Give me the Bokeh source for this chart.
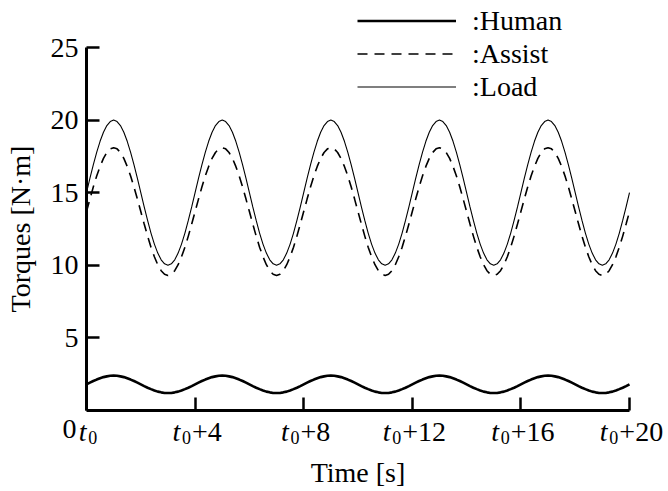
from bokeh.plotting import figure
from bokeh.models import Range1d, FixedTicker, Label, Legend, LegendItem, LinearAxis
from bokeh.embed import file_html
from bokeh.resources import INLINE

# ---- data ----
time_s = [
    0.0, 0.125, 0.25, 0.375, 0.5, 0.625, 0.75, 0.875,
    1.0, 1.125, 1.25, 1.375, 1.5, 1.625, 1.75, 1.875,
    2.0, 2.125, 2.25, 2.375, 2.5, 2.625, 2.75, 2.875,
    3.0, 3.125, 3.25, 3.375, 3.5, 3.625, 3.75, 3.875,
    4.0, 4.125, 4.25, 4.375, 4.5, 4.625, 4.75, 4.875,
    5.0, 5.125, 5.25, 5.375, 5.5, 5.625, 5.75, 5.875,
    6.0, 6.125, 6.25, 6.375, 6.5, 6.625, 6.75, 6.875,
    7.0, 7.125, 7.25, 7.375, 7.5, 7.625, 7.75, 7.875,
    8.0, 8.125, 8.25, 8.375, 8.5, 8.625, 8.75, 8.875,
    9.0, 9.125, 9.25, 9.375, 9.5, 9.625, 9.75, 9.875,
    10.0, 10.125, 10.25, 10.375, 10.5, 10.625, 10.75, 10.875,
    11.0, 11.125, 11.25, 11.375, 11.5, 11.625, 11.75, 11.875,
    12.0, 12.125, 12.25, 12.375, 12.5, 12.625, 12.75, 12.875,
    13.0, 13.125, 13.25, 13.375, 13.5, 13.625, 13.75, 13.875,
    14.0, 14.125, 14.25, 14.375, 14.5, 14.625, 14.75, 14.875,
    15.0, 15.125, 15.25, 15.375, 15.5, 15.625, 15.75, 15.875,
    16.0, 16.125, 16.25, 16.375, 16.5, 16.625, 16.75, 16.875,
    17.0, 17.125, 17.25, 17.375, 17.5, 17.625, 17.75, 17.875,
    18.0, 18.125, 18.25, 18.375, 18.5, 18.625, 18.75, 18.875,
    19.0, 19.125, 19.25, 19.375, 19.5, 19.625, 19.75, 19.875,
    20.0]

human = [
    1.80, 1.92, 2.03, 2.13, 2.22, 2.30, 2.35, 2.39, 2.40, 2.39, 2.35, 2.30, 2.22, 2.13, 2.03, 1.92,
    1.80, 1.68, 1.57, 1.47, 1.38, 1.30, 1.25, 1.21, 1.20, 1.21, 1.25, 1.30, 1.38, 1.47, 1.57, 1.68,
    1.80, 1.92, 2.03, 2.13, 2.22, 2.30, 2.35, 2.39, 2.40, 2.39, 2.35, 2.30, 2.22, 2.13, 2.03, 1.92,
    1.80, 1.68, 1.57, 1.47, 1.38, 1.30, 1.25, 1.21, 1.20, 1.21, 1.25, 1.30, 1.38, 1.47, 1.57, 1.68,
    1.80, 1.92, 2.03, 2.13, 2.22, 2.30, 2.35, 2.39, 2.40, 2.39, 2.35, 2.30, 2.22, 2.13, 2.03, 1.92,
    1.80, 1.68, 1.57, 1.47, 1.38, 1.30, 1.25, 1.21, 1.20, 1.21, 1.25, 1.30, 1.38, 1.47, 1.57, 1.68,
    1.80, 1.92, 2.03, 2.13, 2.22, 2.30, 2.35, 2.39, 2.40, 2.39, 2.35, 2.30, 2.22, 2.13, 2.03, 1.92,
    1.80, 1.68, 1.57, 1.47, 1.38, 1.30, 1.25, 1.21, 1.20, 1.21, 1.25, 1.30, 1.38, 1.47, 1.57, 1.68,
    1.80, 1.92, 2.03, 2.13, 2.22, 2.30, 2.35, 2.39, 2.40, 2.39, 2.35, 2.30, 2.22, 2.13, 2.03, 1.92,
    1.80, 1.68, 1.57, 1.47, 1.38, 1.30, 1.25, 1.21, 1.20, 1.21, 1.25, 1.30, 1.38, 1.47, 1.57, 1.68,
    1.80]

assist = [
    13.70, 14.56, 15.39, 16.15, 16.81, 17.36, 17.77, 18.02, 18.10, 18.02, 17.77, 17.36, 16.81, 16.15, 15.39, 14.56,
    13.70, 12.84, 12.01, 11.25, 10.59, 10.04, 9.63, 9.38, 9.30, 9.38, 9.63, 10.04, 10.59, 11.25, 12.01, 12.84,
    13.70, 14.56, 15.39, 16.15, 16.81, 17.36, 17.77, 18.02, 18.10, 18.02, 17.77, 17.36, 16.81, 16.15, 15.39, 14.56,
    13.70, 12.84, 12.01, 11.25, 10.59, 10.04, 9.63, 9.38, 9.30, 9.38, 9.63, 10.04, 10.59, 11.25, 12.01, 12.84,
    13.70, 14.56, 15.39, 16.15, 16.81, 17.36, 17.77, 18.02, 18.10, 18.02, 17.77, 17.36, 16.81, 16.15, 15.39, 14.56,
    13.70, 12.84, 12.01, 11.25, 10.59, 10.04, 9.63, 9.38, 9.30, 9.38, 9.63, 10.04, 10.59, 11.25, 12.01, 12.84,
    13.70, 14.56, 15.39, 16.15, 16.81, 17.36, 17.77, 18.02, 18.10, 18.02, 17.77, 17.36, 16.81, 16.15, 15.39, 14.56,
    13.70, 12.84, 12.01, 11.25, 10.59, 10.04, 9.63, 9.38, 9.30, 9.38, 9.63, 10.04, 10.59, 11.25, 12.01, 12.84,
    13.70, 14.56, 15.39, 16.15, 16.81, 17.36, 17.77, 18.02, 18.10, 18.02, 17.77, 17.36, 16.81, 16.15, 15.39, 14.56,
    13.70, 12.84, 12.01, 11.25, 10.59, 10.04, 9.63, 9.38, 9.30, 9.38, 9.63, 10.04, 10.59, 11.25, 12.01, 12.84,
    13.70]

load = [
    15.00, 15.98, 16.91, 17.78, 18.54, 19.16, 19.62, 19.90, 20.00, 19.90, 19.62, 19.16, 18.54, 17.78, 16.91, 15.98,
    15.00, 14.02, 13.09, 12.22, 11.46, 10.84, 10.38, 10.10, 10.00, 10.10, 10.38, 10.84, 11.46, 12.22, 13.09, 14.02,
    15.00, 15.98, 16.91, 17.78, 18.54, 19.16, 19.62, 19.90, 20.00, 19.90, 19.62, 19.16, 18.54, 17.78, 16.91, 15.98,
    15.00, 14.02, 13.09, 12.22, 11.46, 10.84, 10.38, 10.10, 10.00, 10.10, 10.38, 10.84, 11.46, 12.22, 13.09, 14.02,
    15.00, 15.98, 16.91, 17.78, 18.54, 19.16, 19.62, 19.90, 20.00, 19.90, 19.62, 19.16, 18.54, 17.78, 16.91, 15.98,
    15.00, 14.02, 13.09, 12.22, 11.46, 10.84, 10.38, 10.10, 10.00, 10.10, 10.38, 10.84, 11.46, 12.22, 13.09, 14.02,
    15.00, 15.98, 16.91, 17.78, 18.54, 19.16, 19.62, 19.90, 20.00, 19.90, 19.62, 19.16, 18.54, 17.78, 16.91, 15.98,
    15.00, 14.02, 13.09, 12.22, 11.46, 10.84, 10.38, 10.10, 10.00, 10.10, 10.38, 10.84, 11.46, 12.22, 13.09, 14.02,
    15.00, 15.98, 16.91, 17.78, 18.54, 19.16, 19.62, 19.90, 20.00, 19.90, 19.62, 19.16, 18.54, 17.78, 16.91, 15.98,
    15.00, 14.02, 13.09, 12.22, 11.46, 10.84, 10.38, 10.10, 10.00, 10.10, 10.38, 10.84, 11.46, 12.22, 13.09, 14.02,
    15.00]

x_ticks = [0, 4, 8, 12, 16, 20]
x_tick_suffix = ["", "+4", "+8", "+12", "+16", "+20"]
y_ticks = [5, 10, 15, 20, 25]
series_labels = [":Human", ":Assist", ":Load"]

# ---- layout / style ----
W, H = 668, 491
AX_L, AX_R, AX_T, AX_B = 86, 629, 47, 410       # pixel box of the axes
X0, X1, Y0, Y1 = 0, 20, 0, 25                     # data limits of the axes
sx = (AX_R - AX_L) / (X1 - X0)
sy = (AX_B - AX_T) / (Y1 - Y0)
FONT = "Liberation Serif"
FS = "28px"
FS_SUB = "18px"

p = figure(width=W, height=H, output_backend="svg", toolbar_location=None,
           x_range=Range1d(X0 - AX_L / sx, X1 + (W - AX_R) / sx),
           y_range=Range1d(Y0 - (H - AX_B) / sy, Y1 + AX_T / sy),
           min_border=0)
p.outline_line_color = None
p.xgrid.visible = False
p.ygrid.visible = False
p.background_fill_color = "white"
p.border_fill_color = "white"

for ax in (p.xaxis[0], p.yaxis[0]):
    ax.axis_line_width = 3
    ax.axis_line_color = "black"
    ax.major_tick_in = 13
    ax.major_tick_out = 0
    ax.minor_tick_in = 0
    ax.minor_tick_out = 0
    ax.major_tick_line_width = 2.5
    ax.major_tick_line_color = "black"
    ax.axis_label_text_font = FONT
    ax.axis_label_text_font_size = FS
    ax.axis_label_text_font_style = "normal"
    ax.axis_label_text_color = "black"
    ax.major_label_text_font = FONT
    ax.major_label_text_font_size = FS
    ax.major_label_text_color = "black"

p.yaxis.fixed_location = X0
p.yaxis.bounds = (Y0, Y1)
p.yaxis.ticker = FixedTicker(ticks=y_ticks)
p.yaxis.axis_label = "Torques [N·m]"
p.yaxis.major_label_standoff = 8
p.yaxis.axis_label_standoff = 12

# bottom axis: line + title
p.xaxis.fixed_location = Y0
p.xaxis.bounds = (X0, X1)
p.xaxis.ticker = FixedTicker(ticks=x_ticks)
p.xaxis.major_tick_in = 0
p.xaxis.major_tick_out = 0
p.xaxis.major_label_overrides = {v: "" for v in x_ticks}
p.xaxis.major_label_standoff = 0
p.xaxis.axis_label = "Time [s]"
p.xaxis.axis_label_standoff = 46

# companion axis at the same place that carries the inward (upward) ticks
tick_axis = LinearAxis(ticker=FixedTicker(ticks=x_ticks), fixed_location=Y0, bounds=(X0, X1),
                       axis_line_color=None, major_tick_in=0, major_tick_out=13,
                       major_tick_line_width=2.5, major_tick_line_color="black",
                       minor_tick_in=0, minor_tick_out=0,
                       major_label_overrides={v: "" for v in x_ticks}, major_label_standoff=0)
p.add_layout(tick_axis, "above")

r_h = p.line(time_s, human, line_color="black", line_width=2.6)
r_a = p.line(time_s, assist, line_color="black", line_width=1.6, line_dash="10 7")
r_l = p.line(time_s, load, line_color="black", line_width=1.1)

# x tick labels: italic t, subscript 0, suffix
for v, s in zip(x_ticks, x_tick_suffix):
    sw = (0.564 + 0.5 * (len(s) - 1)) * 28 if s else 0.0
    left = -(19.5 + sw) / 2 + 2
    p.add_layout(Label(x=v, y=Y0, text="t", x_offset=left, y_offset=-21,
                       text_font=FONT, text_font_size=FS, text_font_style="italic",
                       text_align="left", text_baseline="alphabetic", text_color="black"))
    p.add_layout(Label(x=v, y=Y0, text="0", x_offset=left + 9.5, y_offset=-27,
                       text_font=FONT, text_font_size=FS_SUB,
                       text_align="left", text_baseline="alphabetic", text_color="black"))
    if s:
        p.add_layout(Label(x=v, y=Y0, text=s, x_offset=left + 19.5, y_offset=-21,
                           text_font=FONT, text_font_size=FS,
                           text_align="left", text_baseline="alphabetic", text_color="black"))

# y origin label
p.add_layout(Label(x=X0, y=Y0, text="0", x_offset=-10, y_offset=-18,
                   text_font=FONT, text_font_size=FS,
                   text_align="right", text_baseline="alphabetic", text_color="black"))

legend = Legend(items=[LegendItem(label=series_labels[0], renderers=[r_h]),
                       LegendItem(label=series_labels[1], renderers=[r_a]),
                       LegendItem(label=series_labels[2], renderers=[r_l])],
                location=(357, H - 103), glyph_width=99, glyph_height=33, label_height=33,
                label_standoff=16, spacing=0, padding=0, margin=0,
                label_text_font=FONT, label_text_font_size=FS, label_text_color="black",
                background_fill_alpha=0, border_line_alpha=0)
p.add_layout(legend)

open("out.html", "w").write(file_html(p, INLINE))
